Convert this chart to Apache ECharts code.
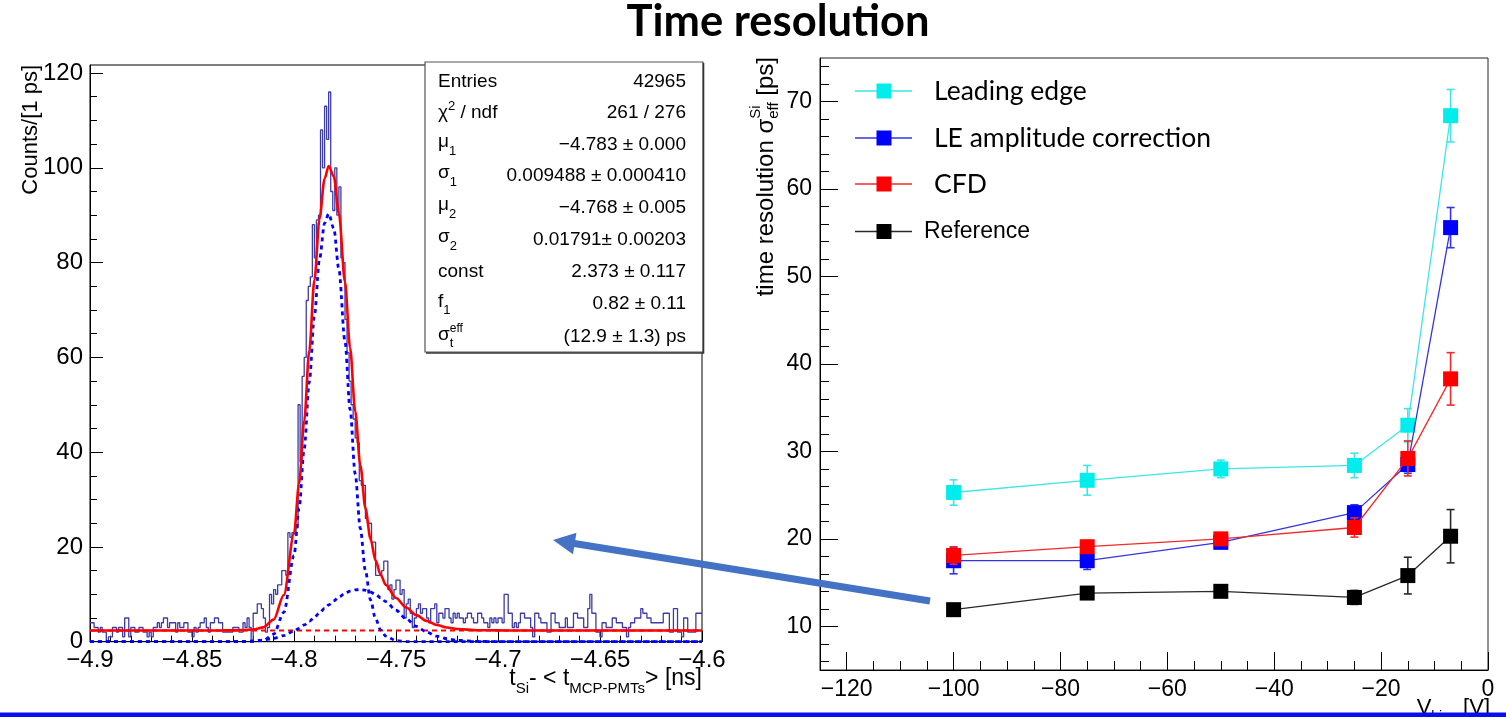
<!DOCTYPE html>
<html><head><meta charset="utf-8">
<script src="https://cdn.jsdelivr.net/npm/echarts@6/dist/echarts.min.js"></script>
<style>html,body{margin:0;padding:0;background:#fff}#c{width:1506px;height:717px}</style>
</head><body><div id="c"></div>
<script>
// ---------------- DATA: left histogram ----------------
const histStart = -4.9;
const histBinWidth = 0.001;
const histCounts = [
 4,4,3,3,2,3,2,2,0,1,
 1,3,3,2,3,3,1,5,5,1,
 3,3,2,2,3,3,2,2,1,2,
 1,3,3,4,3,4,5,5,3,4,
 4,4,2,4,3,3,4,4,2,2,
 1,3,2,3,4,4,5,3,2,4,
 4,5,5,4,4,2,2,2,2,2,
 3,3,3,2,2,4,3,5,3,0,
 6,6,8,8,7,5,2,3,10,8,
 11,10,12,12,15,15,14,23,22,23,
 23,24,50,38,56,60,72,75,77,88,
 81,89,90,108,100,113,106,116,95,91,
 100,90,96,81,80,68,61,55,50,47,
 43,42,34,33,33,26,25,25,21,21,
 14,14,14,15,17,17,11,12,9,11,
 13,13,10,11,5,8,9,6,3,5,
 7,8,6,7,7,5,4,7,7,8,
 4,6,6,5,7,7,5,4,6,5,
 6,5,5,4,5,6,6,5,4,4,
 6,6,5,4,4,3,5,4,5,4,
 5,5,4,10,10,6,6,3,4,3,
 4,6,6,5,5,5,3,1,6,6,
 5,4,4,4,2,2,6,6,4,4,
 3,3,3,5,3,3,3,6,6,5,
 5,5,3,3,7,10,6,6,2,2,
 1,4,4,3,3,3,5,5,4,4,
 4,3,3,1,3,4,4,5,5,5,
 7,6,6,5,5,4,4,4,4,4,
 4,6,6,6,2,2,7,7,2,2,
 1,5,5,2,2,2,2,6,6,6
];
// fit curves (x in ns)
const fitX = [-4.9,-4.85,-4.84,-4.835,-4.83,-4.825,-4.82,-4.815,-4.81,-4.805,-4.8,-4.7975,-4.795,-4.7925,-4.79,-4.7875,-4.785,-4.783,-4.7805,-4.778,-4.775,-4.7725,-4.77,-4.7675,-4.765,-4.7625,-4.76,-4.7575,-4.755,-4.75,-4.745,-4.74,-4.735,-4.73,-4.725,-4.72,-4.71,-4.7,-4.69,-4.6];
const fitTotal = [2.37,2.37,2.37,2.38,2.40,2.45,2.58,3.03,4.66,9.85,22.8,33.4,46.6,61.5,76.3,89.2,97.7,100.4,98.2,90.4,75.9,62.0,48.7,37.3,28.2,21.7,17.1,14.1,12.0,9.23,7.22,5.61,4.39,3.53,2.99,2.67,2.43,2.38,2.37,2.37];
const fitNarrow = [0,0,0,0,0,0.005,0.05,0.31,1.59,6.18,18.2,28.2,40.7,54.8,68.8,80.7,88.3,90.3,87.2,78.6,63.3,49.0,35.4,23.9,15.0,8.8,4.81,2.46,1.17,0.22,0.03,0,0,0,0,0,0,0,0,0];
const fitWide = [0,0,0,0.01,0.03,0.07,0.16,0.35,0.70,1.30,2.23,2.83,3.53,4.32,5.17,6.08,7.01,7.74,8.62,9.42,10.19,10.66,10.93,11.0,10.85,10.49,9.96,9.27,8.45,6.64,4.82,3.24,2.02,1.16,0.62,0.30,0.06,0.01,0,0];
const fitConst = 2.373;
const leftXTicks = [-4.9,-4.85,-4.8,-4.75,-4.7,-4.65,-4.6];
const leftYTicks = [0,20,40,60,80,100,120];

const statLabels = ['Entries','χ2 / ndf','μ1','σ1','μ2','σ2','const','f1','σt eff'];
const statValues = ['42965','261 / 276','\u22124.783 ± 0.000','0.009488 ± 0.000410','\u22124.768 ± 0.005','0.01791± 0.00203','2.373 ± 0.117','0.82 ± 0.11','(12.9 ± 1.3) ps'];

// ---------------- DATA: right graph ----------------
const seriesNames = ['Leading edge','LE amplitude correction','CFD','Reference'];
const biasV = [-100,-75,-50,-25,-15,-7];
const leadingEdge = [25.3,26.7,28.0,28.4,33.0,68.4];
const leadingEdgeErr = [1.45,1.7,1.0,1.4,1.9,3.0];
const leAmpCorr = [17.5,17.5,19.6,23.0,28.5,55.6];
const leAmpCorrErr = [1.5,1.0,0.6,0.9,1.0,2.3];
const cfd = [18.1,19.1,20.0,21.3,29.2,38.3];
const cfdErr = [1.0,0.7,0.6,1.1,2.0,3.0];
const reference = [11.9,13.8,14.0,13.3,15.8,20.3];
const referenceErr = [0.3,0.3,0.3,0.8,2.1,3.05];
const rightXTicks = [-120,-100,-80,-60,-40,-20,0];
const rightYTicks = [10,20,30,40,50,60,70];

// ---------------- helpers ----------------
const HV = '"Liberation Sans", Arial, sans-serif';
const CAL = 'Lato, "Open Sans", sans-serif';
const mctx = document.createElement('canvas').getContext('2d');
function tw(t, s, fam, w){ mctx.font = (w||'normal') + ' ' + s + 'px ' + fam; return mctx.measureText(t).width; }
function layout(pieces, align, d){
  let x = 0, pend = 0; const items = [];
  pieces.forEach(p => {
    const fam = p.fam || d.fam, s = p.s || d.s, w = p.w || d.w || 'normal';
    const width = tw(p.t, s, fam, w);
    items.push({p, x, fam, s, w});
    if (p.stack) pend = Math.max(pend, width); else { x += Math.max(width, pend); pend = 0; }
  });
  const off = align === 'right' ? -x : (align === 'center' ? -x/2 : 0);
  return items.map(it => ({type:'text', x: it.x + off, y: it.p.dy || 0, z: 100,
    style:{text: it.p.t, fontSize: it.s, fontFamily: it.fam, fontWeight: it.w, fill: it.p.c || d.c || '#000',
      textAlign:'left', textVerticalAlign:'middle', align:'left', verticalAlign:'middle'}}));
}
function tgroup(pieces, x, y, align, d, rot){ return {type:'group', x, y, rotation: rot||0, z:100, children: layout(pieces, align, d)}; }
function range(a, b, step){ const r=[]; for(let v=a; v<=b+1e-9; v+=step) r.push(+v.toFixed(6)); return r; }
function fmt(v){ if (Math.abs(v) < 1e-9) return '0'; return (v<0?'\u2212':'') + String(+Math.abs(v).toFixed(3)); }

const leftXMinor = range(-4.9, -4.6, 0.01);
const leftYMinor = range(0, 120, 5);
const rightXMinor = range(-125, 0, 5);
const rightYMinor = range(6, 74, 2);

// ---------------- series data ----------------
const histData = histCounts.map((c,i) => [histStart + i*histBinWidth, c]);
histData.push([histStart + histCounts.length*histBinWidth, histCounts[histCounts.length-1]]);

const rColors = ['#00eded','#0000ff','#ff0000','#000000'];
const rLine = ['#3ee6e6','#3434e6','#f02a2a','#2a2a2a'];
const rVals = [leadingEdge, leAmpCorr, cfd, reference];
const rErrs = [leadingEdgeErr, leAmpCorrErr, cfdErr, referenceErr];

function errRender(color){
  return function(params, api){
    const x = api.value(0), y = api.value(1), e = api.value(2);
    const t = api.coord([x, y+e]), b = api.coord([x, y-e]); const c = 4;
    const st = {stroke: color, lineWidth: 1.6};
    return {type:'group', children:[
      {type:'line', shape:{x1:t[0],y1:t[1],x2:b[0],y2:b[1]}, style:st},
      {type:'line', shape:{x1:t[0]-c,y1:t[1],x2:t[0]+c,y2:t[1]}, style:st},
      {type:'line', shape:{x1:b[0]-c,y1:b[1],x2:b[0]+c,y2:b[1]}, style:st}]};
  };
}

const series = [
  {type:'line', xAxisIndex:0, yAxisIndex:0, data: histData, step:'end', showSymbol:false, symbol:'none',
   lineStyle:{color:'#3c3ca8', width:1.3}, z:2, animation:false},
  {type:'line', xAxisIndex:0, yAxisIndex:0, data: [[-4.9, fitConst],[-4.6, fitConst]], showSymbol:false, symbol:'none',
   lineStyle:{color:'#ff0000', width:2, type:[5,4]}, z:3},
  {type:'line', xAxisIndex:0, yAxisIndex:0, data: fitX.map((x,i)=>[x, fitNarrow[i]]), smooth:0.3, smoothMonotone:'x', showSymbol:false, symbol:'none',
   lineStyle:{color:'#0000ff', width:2.8, type:[4,4]}, z:4},
  {type:'line', xAxisIndex:0, yAxisIndex:0, data: fitX.map((x,i)=>[x, fitWide[i]]), smooth:0.3, smoothMonotone:'x', showSymbol:false, symbol:'none',
   lineStyle:{color:'#0000ff', width:2.8, type:[4,4]}, z:4},
  {type:'line', xAxisIndex:0, yAxisIndex:0, data: fitX.map((x,i)=>[x, fitTotal[i]]), smooth:0.3, smoothMonotone:'x', showSymbol:false, symbol:'none',
   lineStyle:{color:'#ff0000', width:2.6}, z:5}
];
[3,0,1,2].forEach((k, n) => {
  series.push({type:'custom', xAxisIndex:1, yAxisIndex:1, coordinateSystem:'cartesian2d', renderItem: errRender(rLine[k]),
    data: biasV.map((v,i)=>[v, rVals[k][i], rErrs[k][i]]), encode:{x:0, y:1}, z:10+n*2});
  series.push({type:'line', name: seriesNames[k], xAxisIndex:1, yAxisIndex:1, data: biasV.map((v,i)=>[v, rVals[k][i]]),
    symbol:'rect', symbolSize:15, showSymbol:true, itemStyle:{color:rColors[k], opacity:1}, lineStyle:{color:rLine[k], width:1.3}, z:11+n*2});
});

// ---------------- axes (main grids 0/1, minor-tick grids 2/3 overlaid) ----------------
function majorAxis(grid, min, max, major, len, fs, margin, pos){
  return {type:'value', gridIndex:grid, min, max, position:pos, axisLine:{show:true, onZero:false, lineStyle:{color:'#000', width:1}},
     axisTick:{show:true, inside:true, length:len, customValues: major, lineStyle:{color:'#000', width:1}},
     axisLabel:{show:true, customValues: major, formatter: fmt, fontSize: fs, fontFamily: HV, color:'#000', margin},
     splitLine:{show:false}, minorTick:{show:false}};
}
function minorAxis(grid, min, max, minor, len, pos){
  return {type:'value', gridIndex:grid, min, max, position:pos, axisLine:{show:false, onZero:false},
     axisTick:{show:true, inside:true, length:len, customValues: minor, lineStyle:{color:'#000', width:1}},
     axisLabel:{show:false}, splitLine:{show:false}};
}
const xAxes = [majorAxis(0, -4.9, -4.6, leftXTicks, 11, 24, 7, 'bottom'),
               majorAxis(1, -125, 0, rightXTicks, 18, 23, 8, 'bottom'),
               minorAxis(2, -4.9, -4.6, leftXMinor, 6, 'bottom'),
               minorAxis(3, -125, 0, rightXMinor, 9, 'bottom')];
const yAxes = [majorAxis(0, 0, 121.7, leftYTicks, 13, 24, 7, 'left'),
               majorAxis(1, 5, 75, rightYTicks, 18, 23, 8, 'left'),
               minorAxis(2, 0, 121.7, leftYMinor, 7, 'left'),
               minorAxis(3, 5, 75, rightYMinor, 9, 'left')];

// ---------------- graphics (texts, boxes, legend, arrow) ----------------
const g = [];
g.push(tgroup([{t:'Time resolution'}], 778, 22, 'center', {fam:CAL, s:43.5, w:'bold'}));
// left axis titles
g.push(tgroup([{t:'Counts/[1 ps]'}], 31, 65, 'right', {fam:HV, s:22}, Math.PI/2));
g.push(tgroup([{t:'t'},{t:'Si',s:15,dy:10},{t:'- < t'},{t:'MCP-PMTs',s:15,dy:10},{t:'> [ns]'}], 702, 679, 'right', {fam:HV, s:23}));
// stats box
g.push({type:'rect', z:90, shape:{x:425, y:62, width:278, height:290}, style:{fill:'#fff', stroke:'#555', lineWidth:1.2}});
g.push({type:'polyline', z:91, shape:{points:[[703.5,63],[703.5,353],[426,353]]}, style:{stroke:'#333', lineWidth:1.6, fill:null}});
const rowY = [82,113,145,176,208,240,272,304,337];
const statPieces = [
  [{t:statLabels[0]}],
  [{t:'χ'},{t:'2',s:13,dy:-7},{t:' / ndf'}],
  [{t:'μ',dy:-3},{t:'1',s:13,dy:6}],
  [{t:'σ',dy:-3},{t:'1',s:13,dy:6}],
  [{t:'μ',dy:-3},{t:'2',s:13,dy:6}],
  [{t:'σ',dy:-3},{t:'2',s:13,dy:6}],
  [{t:statLabels[6]}],
  [{t:'f',dy:-2},{t:'1',s:13,dy:6}],
  [{t:'σ',dy:-2},{t:'eff',s:12,dy:-8,stack:true},{t:'t',s:13,dy:6}]
];
statPieces.forEach((p,i) => {
  g.push(tgroup(p, 438, rowY[i], 'left', {fam:HV, s:19}));
  g.push(tgroup([{t:statValues[i]}], 686, rowY[i], 'right', {fam:HV, s:19}));
});
// right axis titles
g.push(tgroup([{t:'time resolution '},{t:'σ'},{t:'Si',s:15,dy:-10,stack:true},{t:'eff',s:15,dy:8},{t:' [ps]'}], 766, 57, 'right', {fam:HV, s:24}, Math.PI/2));
g.push(tgroup([{t:'V'},{t:'bias',s:14,dy:9},{t:' [V]'}], 1490, 708, 'right', {fam:HV, s:22}));
// legend
const legY = [91, 138, 184, 231.5];
[0,1,2,3].forEach((k,i) => {
  g.push({type:'line', z:95, shape:{x1:855, y1:legY[i], x2:912, y2:legY[i]}, style:{stroke:rLine[k], lineWidth:1.3}});
  g.push({type:'rect', z:96, shape:{x:876.5, y:legY[i]-7.5, width:15, height:15}, style:{fill:rColors[k]}});
  if (k < 3) g.push(tgroup([{t:seriesNames[k]}], 934, legY[i], 'left', {fam:CAL, s:26.5}));
  else g.push(tgroup([{t:seriesNames[k]}], 924, legY[i], 'left', {fam:HV, s:23}));
});
// arrow
(function(){
  const tail=[930,601], tip=[553,540];
  const dx=tip[0]-tail[0], dy=tip[1]-tail[1], L=Math.hypot(dx,dy), ux=dx/L, uy=dy/L, nx=-uy, ny=ux;
  const hl=22, hw=11, bx=tip[0]-ux*hl, by=tip[1]-uy*hl;
  g.push({type:'line', z:120, shape:{x1:tail[0], y1:tail[1], x2:bx+ux*2, y2:by+uy*2}, style:{stroke:'#4472C4', lineWidth:7}});
  g.push({type:'polygon', z:120, shape:{points:[[tip[0],tip[1]],[bx+nx*hw,by+ny*hw],[bx-nx*hw,by-ny*hw]]}, style:{fill:'#4472C4'}});
})();
// bottom band
g.push({type:'rect', z:130, shape:{x:0, y:712.5, width:1506, height:5}, style:{fill:'#0c0cf0'}});

const gridBase = {containLabel:false, outerBoundsMode:'none', backgroundColor:'transparent'};
const option = {
  animation:false,
  backgroundColor:'#ffffff',
  grid:[
    Object.assign({left:90, top:65, width:612, height:576.7, show:true, borderColor:'#000', borderWidth:1}, gridBase),
    Object.assign({left:820, top:58, width:668, height:612, show:true, borderColor:'#222', borderWidth:1}, gridBase),
    Object.assign({left:90, top:65, width:612, height:576.7, show:false}, gridBase),
    Object.assign({left:820, top:58, width:668, height:612, show:false}, gridBase)
  ],
  xAxis: xAxes,
  yAxis: yAxes,
  series,
  graphic:{elements:g}
};
const chart = echarts.init(document.getElementById('c'), null, {renderer:'canvas'});
chart.setOption(option);
</script></body></html>
